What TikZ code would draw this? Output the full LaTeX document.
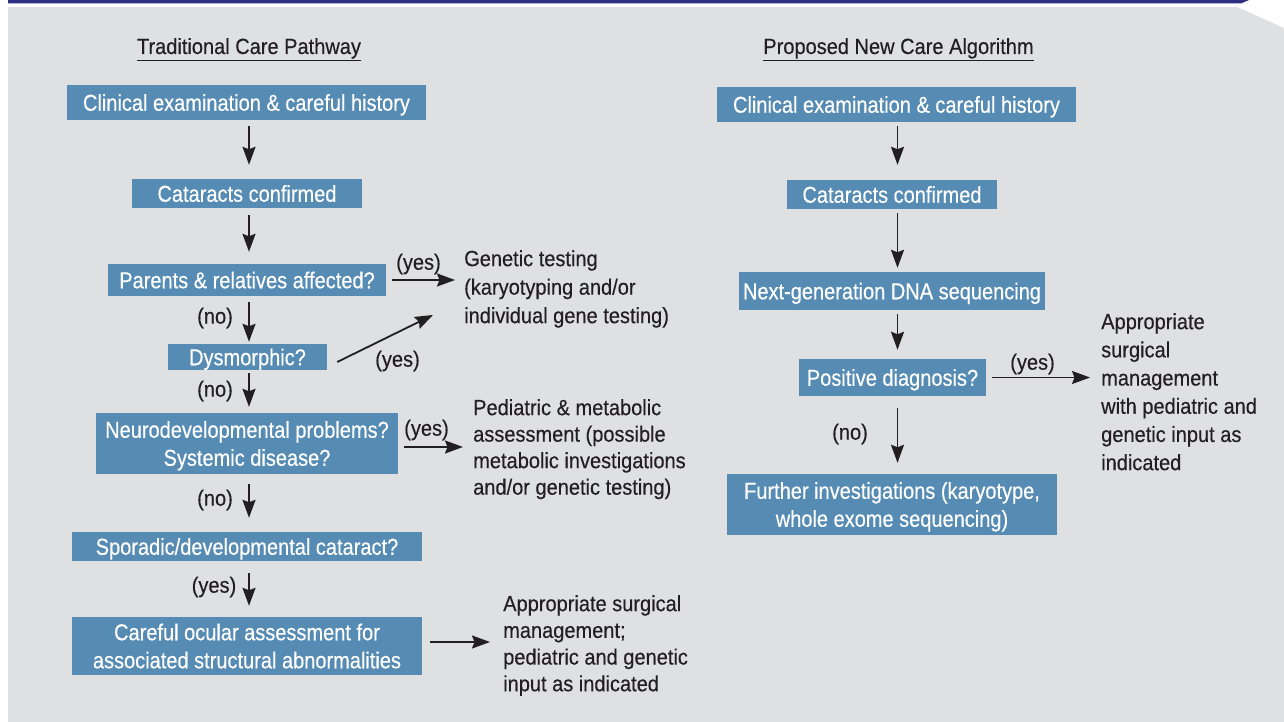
\documentclass[tikz,border=0pt]{standalone}
\usepackage{fontspec}
\setmainfont{Liberation Sans}
\newfontfamily\boxfam{Liberation Sans}[FakeStretch=0.87,FakeBold=0.4]
\newfontfamily\plainfam{Liberation Sans}[FakeStretch=0.91,FakeBold=0.35]
\usetikzlibrary{arrows.meta,calc}
\definecolor{bgray}{HTML}{DFE0E2}
\definecolor{navy}{HTML}{2B2E83}
\definecolor{boxblue}{HTML}{568BB3}
\definecolor{ink}{HTML}{231F20}
\begin{document}
\begin{tikzpicture}[x=1pt,y=-1pt,
  stepbox/.style={fill=boxblue, text=white, inner sep=0pt, align=center, font=\boxfam\fontsize{23}{28}\selectfont},
  one/.style={text height=16.5pt, text depth=0pt},
  two/.style={text height=44.5pt, text depth=0pt},
  note/.style={text=ink, inner sep=0pt, align=left, anchor=north west, font=\plainfam\fontsize{22}{#1}\selectfont},
  note/.default=28,
  lab/.style={text=ink, inner sep=0pt, font=\plainfam\fontsize{22}{26}\selectfont},
  ttl/.style={text=ink, inner sep=0pt, anchor=base, font=\plainfam\fontsize{22}{26}\selectfont},
  flow/.style={draw=ink, line width=1.8pt, -{Stealth[length=18pt,width=13pt,inset=2.5pt]}},
]
\useasboundingbox (0,0) rectangle (1284,722);
% background
\fill[bgray] (8,7) -- (1237,7) -- (1284,28) -- (1284,722) -- (8,722) -- cycle;
\fill[navy] (8,0) -- (1249,0) -- (1241,3.5) -- (8,3.5) -- cycle;

\coordinate (cl) at (249,0);
\coordinate (cr) at (897.5,0);

% titles
\node[ttl] (T1) at (249,54) {\underline{Traditional Care Pathway}};
\node[ttl] (T2) at (898.5,54) {\underline{Proposed New Care Algorithm}};

% left column
\node[stepbox, one, minimum width=359pt, minimum height=35pt] (L1) at (246.5,102.5) {Clinical examination \& careful history};
\node[stepbox, one, minimum width=230pt, minimum height=29pt] (L2) at (247,193.5) {Cataracts confirmed};
\node[stepbox, one, minimum width=278pt, minimum height=32pt] (L3) at (247,280) {Parents \& relatives affected?};
\node[stepbox, one, minimum width=159pt, minimum height=26pt] (L4) at (247.5,357) {Dysmorphic?};
\node[stepbox, two, minimum width=302pt, minimum height=61pt] (L5) at (247,443.5) {Neurodevelopmental problems?\\Systemic disease?};
\node[stepbox, one, minimum width=350pt, minimum height=29pt] (L6) at (247,546.5) {Sporadic/developmental cataract?};
\node[stepbox, two, minimum width=350pt, minimum height=58pt] (L7) at (247,646) {Careful ocular assessment for\\associated structural abnormalities};

\node[note=28.5] (G) at (464,250) {Genetic testing\\(karyotyping and/or\\individual gene testing)};
\node[note=26.5] (P) at (473,399) {Pediatric \& metabolic\\assessment (possible\\metabolic investigations\\and/or genetic testing)};
\node[note=26.7] (AL) at (503,595) {Appropriate surgical\\management;\\pediatric and genetic\\input as indicated};

\draw[flow, shorten <=6pt, shorten >=14pt] (L1.south -| cl) -- (L2.north -| cl);
\draw[flow, shorten <=7pt, shorten >=12pt] (L2.south -| cl) -- (L3.north -| cl);
\draw[flow, shorten <=6pt, shorten >=2pt] (L3.south -| cl) -- (L4.north -| cl);
\draw[flow, shorten <=3pt, shorten >=6pt] (L4.south -| cl) -- (L5.north -| cl);
\draw[flow, shorten <=10pt, shorten >=14pt] (L5.south -| cl) -- (L6.north -| cl);
\draw[flow, shorten <=12pt, shorten >=11pt] (L6.south -| cl) -- (L7.north -| cl);

\draw[flow, shorten <=6pt, shorten >=9pt] (L3.east) -- (L3.east -| G.west);
\draw[flow] ($(L4.east)+(10,5)$) -- ($(G.west)+(-31,26)$);
\draw[flow, shorten >=10pt] ($(L5.east)+(6,3.5)$) -- ($(L5.east -| P.west)+(0,3.5)$);
\draw[flow, shorten >=13pt] ($(L7.east)+(8,-4)$) -- ($(L7.east -| AL.west)+(0,-4)$);

\node[lab] (n1) at (215,318) {(no)};
\node[lab] (n2) at (215,391) {(no)};
\node[lab] (n3) at (215,500) {(no)};
\node[lab] (y4) at (214,587) {(yes)};
\node[lab] (y1) at (418.5,264) {(yes)};
\node[lab] (y2) at (397.5,361) {(yes)};
\node[lab] (y3) at (426.5,430) {(yes)};

% right column
\node[stepbox, one, minimum width=359pt, minimum height=35pt] (R1) at (896.5,104.5) {Clinical examination \& careful history};
\node[stepbox, one, minimum width=210pt, minimum height=29pt] (R2) at (892,194.5) {Cataracts confirmed};
\node[stepbox, one, minimum width=306pt, minimum height=38pt] (R3) at (892,291) {Next-generation DNA sequencing};
\node[stepbox, one, minimum width=187pt, minimum height=37pt] (R4) at (892.5,377.5) {Positive diagnosis?};
\node[stepbox, two, minimum width=330pt, minimum height=61pt] (R5) at (892,504.5) {Further investigations (karyotype,\\whole exome sequencing)};

\node[note=28.2] (AR) at (1101,313) {Appropriate\\surgical\\management\\with pediatric and\\genetic input as\\indicated};

\draw[flow, shorten <=4pt, shorten >=15pt] (R1.south -| cr) -- (R2.north -| cr);
\draw[flow, shorten <=4pt, shorten >=4pt] (R2.south -| cr) -- (R3.north -| cr);
\draw[flow, shorten <=4pt, shorten >=9pt] (R3.south -| cr) -- (R4.north -| cr);
\draw[flow, shorten <=12pt, shorten >=11pt] (R4.south -| cr) -- (R5.north -| cr);
\draw[flow, shorten <=6pt, shorten >=11pt] (R4.east) -- (R4.east -| AR.west);

\node[lab] (y5) at (1032.5,364) {(yes)};
\node[lab] (n5) at (850,434) {(no)};
\end{tikzpicture}
\end{document}
